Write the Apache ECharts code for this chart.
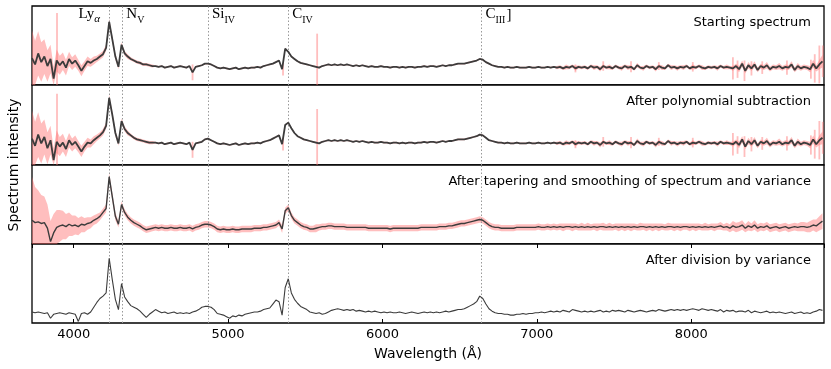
<!DOCTYPE html>
<html>
<head>
<meta charset="utf-8">
<script src="https://cdn.jsdelivr.net/npm/echarts@6/dist/echarts.min.js"></script>
<style>
  html, body { margin: 0; padding: 0; background: #fff; }
  #chart { width: 831px; height: 369px; }
</style>
</head>
<body>
<div id="chart"></div>
<script>
// wavelength sampling of the spectrum (Angstrom), 20 A steps
const lam = [];
for (let w = 3730; w <= 8850; w += 20) lam.push(w);

// emission line positions (observed frame)
const lineNames = ['Ly', 'N', 'Si', 'C', 'C'];
const lineSubs = ['α', 'V', 'IV', 'IV', 'III'];
const lineWaves = [4229, 4315, 4870, 5390, 6641];

const panelTitles = [
  'Starting spectrum',
  'After polynomial subtraction',
  'After tapering and smoothing of spectrum and variance',
  'After division by variance'
];
const tickLabels = [4000, 5000, 6000, 7000, 8000];

// panel 1: raw spectrum
const fluxRaw = [
  34, 26, 40, 29, 36, 24, 33, 8, 31, 25,
  30, 22, 33, 27, 31, 25, 18, 24, 30, 28,
  31, 33, 36, 39, 47, 80, 58, 36, 23, 51,
  40, 36, 33, 31, 29, 28, 26, 26, 25, 24,
  24, 23, 24, 22, 23, 24, 22, 23, 24, 23,
  22, 24, 16, 23, 24, 25, 27, 27, 26, 24,
  22, 21, 22, 21, 20, 21, 22, 20, 21, 22,
  21, 22, 22, 23, 22, 24, 25, 26, 27, 29,
  31, 20, 46, 42, 36, 33, 30, 28, 27, 26,
  25, 24, 23, 22, 24, 25, 26, 25, 26, 25,
  26, 25, 26, 25, 24, 25, 24, 25, 24, 23,
  24, 23, 23, 24, 23, 23, 22, 23, 23, 22,
  23, 22, 23, 23, 22, 23, 23, 24, 23, 24,
  24, 23, 24, 25, 24, 25, 25, 26, 27, 27,
  27, 28, 29, 30, 31, 33, 32, 29, 27, 25,
  24, 23, 23, 22, 23, 22, 22, 23, 22, 22,
  22, 23, 22, 22, 23, 22, 22, 23, 22, 23,
  22, 23, 21, 23, 22, 24, 21, 23, 22, 23,
  21, 24, 22, 23, 20, 24, 22, 23, 21, 24,
  22, 21, 24, 22, 23, 20, 25, 22, 21, 24,
  22, 23, 20, 24, 22, 21, 25, 22, 23, 21,
  23, 22, 24, 21, 23, 22, 24, 22, 21, 23,
  22, 23, 21, 24, 22, 23, 22, 21, 24, 20,
  27, 18, 25, 21, 26, 19, 24, 22, 25, 20,
  23, 22, 24, 21, 23, 22, 26, 19, 24, 21,
  23, 22, 20, 27, 21, 26, 30
];
// smooth part of the noise (1 sigma) of the raw spectrum
const errRaw = [
  35, 30, 28, 25, 22, 20, 18, 15, 14, 12,
  11, 10, 9, 8, 8, 7, 7, 6, 6, 5,
  5, 4, 4, 4, 4, 4, 4, 4, 3, 3,
  3, 3, 2, 2, 2, 2, 2, 2, 2, 2,
  1, 1, 1, 1, 1, 1, 1, 1, 1, 1,
  1, 1, 1, 1, 1, 1, 1, 1, 1, 1,
  1, 1, 1, 1, 1, 1, 1, 1, 1, 1,
  1, 1, 1, 1, 1, 1, 1, 1, 1, 1,
  1, 1, 1, 1, 1, 1, 1, 1, 1, 1,
  1, 1, 1, 1, 1, 1, 1, 1, 1, 1,
  1, 1, 1, 1, 1, 1, 1, 1, 1, 1,
  1, 1, 1, 1, 1, 1, 1, 1, 1, 1,
  1, 1, 1, 1, 1, 1, 1, 1, 1, 1,
  1, 1, 1, 1, 1, 1, 1, 1, 1, 1,
  1, 1, 1, 1, 1, 1, 1, 1, 1, 1,
  1, 1, 1, 1, 1, 1, 1, 1, 1, 1,
  1, 1, 1, 1, 1, 1, 1, 1, 1, 1,
  2, 2, 2, 3, 2, 2, 3, 2, 2, 2,
  2, 2, 3, 2, 3, 2, 2, 3, 2, 2,
  2, 3, 2, 3, 2, 2, 3, 2, 3, 2,
  2, 2, 3, 2, 3, 2, 2, 3, 2, 3,
  2, 3, 2, 2, 3, 2, 2, 3, 2, 2,
  2, 2, 3, 2, 2, 3, 2, 3, 3, 4,
  4, 3, 4, 3, 4, 3, 3, 3, 4, 3,
  3, 3, 4, 3, 3, 3, 4, 3, 4, 3,
  3, 3, 4, 5, 4, 6, 8
];
// narrow noise spikes (sky lines, bad pixels) of the raw variance
const spikeWaves = [3892, 4770, 5356, 5577, 7250, 7430, 7610, 7790, 8010, 8270, 8300, 8345, 8390, 8460, 8620, 8775, 8800, 8830, 8852];
const spikeSig = [60, 10, 8, 42, 5, 6, 7, 5, 6, 14, 11, 13, 9, 8, 9, 12, 18, 24, 20];

// panel 2: after polynomial subtraction
const fluxPoly = [
  33, 24, 38, 27, 35, 21, 31, 6, 29, 23,
  28, 20, 31, 25, 29, 23, 17, 23, 28, 27,
  31, 34, 37, 41, 49, 84, 63, 40, 27, 55,
  45, 40, 37, 34, 32, 31, 30, 29, 28, 28,
  28, 27, 28, 26, 27, 28, 26, 27, 28, 27,
  26, 28, 19, 27, 28, 29, 32, 33, 31, 29,
  27, 26, 27, 26, 25, 26, 27, 25, 26, 27,
  26, 27, 27, 28, 27, 29, 30, 31, 33, 35,
  37, 26, 50, 53, 46, 40, 36, 34, 32, 31,
  30, 29, 28, 27, 29, 30, 31, 30, 31, 30,
  31, 30, 31, 30, 29, 30, 29, 30, 29, 28,
  29, 28, 28, 29, 28, 28, 27, 28, 28, 27,
  28, 27, 28, 28, 27, 28, 28, 29, 28, 29,
  29, 28, 29, 30, 29, 30, 30, 31, 32, 32,
  32, 33, 34, 35, 36, 38, 37, 34, 31, 30,
  29, 28, 28, 27, 28, 27, 27, 28, 27, 27,
  27, 28, 27, 27, 28, 27, 27, 28, 27, 28,
  27, 28, 26, 28, 27, 29, 26, 28, 27, 28,
  26, 29, 27, 28, 25, 29, 27, 28, 26, 29,
  27, 26, 29, 27, 28, 25, 30, 27, 26, 29,
  27, 28, 25, 29, 27, 26, 30, 27, 28, 26,
  28, 27, 29, 26, 28, 27, 29, 27, 26, 28,
  27, 28, 26, 29, 27, 28, 27, 26, 29, 25,
  32, 23, 30, 26, 31, 24, 29, 27, 30, 25,
  28, 27, 29, 26, 28, 27, 31, 24, 29, 26,
  28, 27, 25, 32, 26, 31, 34
];

// panel 3: tapered and smoothed
const fluxSmooth = [
  30, 27, 28, 26, 27, 20, 3, 14, 21, 23,
  24, 22, 25, 23, 24, 22, 25, 24, 26, 27,
  30, 32, 35, 40, 45, 85, 60, 35, 25, 50,
  40, 34, 30, 27, 25, 23, 20, 18, 19, 20,
  21, 20, 21, 20, 20, 21, 20, 20, 21, 20,
  20, 21, 19, 21, 22, 24, 25, 25, 24, 22,
  19, 18, 19, 18, 18, 19, 18, 18, 19, 19,
  19, 19, 20, 20, 20, 21, 21, 22, 23, 24,
  27, 19, 42, 46, 36, 30, 27, 24, 22, 21,
  19, 19, 20, 21, 22, 22, 23, 23, 22, 22,
  22, 22, 21, 21, 21, 21, 21, 21, 21, 20,
  20, 20, 20, 20, 20, 20, 19, 20, 20, 20,
  20, 20, 20, 20, 20, 20, 21, 21, 21, 21,
  21, 21, 22, 22, 22, 23, 23, 24, 25, 26,
  26, 27, 28, 29, 30, 31, 30, 27, 24, 22,
  21, 21, 20, 20, 20, 20, 20, 21, 21, 21,
  21, 21, 21, 21, 22, 21, 21, 22, 21, 22,
  21, 22, 21, 22, 22, 21, 22, 21, 22, 21,
  22, 21, 22, 21, 22, 22, 21, 22, 21, 22,
  21, 22, 21, 22, 21, 22, 21, 22, 22, 21,
  22, 21, 22, 21, 22, 21, 22, 22, 21, 22,
  21, 22, 22, 21, 22, 21, 22, 21, 22, 21,
  22, 21, 22, 23, 21, 22, 20, 23, 21, 22,
  24, 20, 23, 21, 24, 20, 22, 21, 23, 20,
  21, 22, 20, 21, 22, 20, 21, 22, 21, 22,
  22, 21, 22, 24, 23, 26, 29
];
const errSmooth = [
  55, 45, 40, 36, 33, 30, 26, 24, 22, 20,
  18, 16, 15, 13, 12, 11, 10, 9, 8, 7,
  6, 6, 5, 5, 5, 5, 5, 5, 4, 4,
  4, 4, 4, 4, 4, 4, 4, 4, 4, 4,
  4, 4, 4, 4, 4, 4, 4, 4, 4, 4,
  4, 4, 4, 4, 4, 4, 4, 4, 4, 4,
  4, 4, 4, 4, 4, 4, 4, 4, 4, 4,
  4, 4, 4, 4, 4, 4, 4, 4, 4, 4,
  4, 5, 4, 4, 4, 4, 4, 4, 4, 4,
  4, 4, 5, 4, 4, 4, 4, 4, 4, 4,
  4, 4, 4, 4, 4, 4, 4, 4, 4, 4,
  4, 4, 4, 4, 4, 4, 4, 4, 4, 4,
  4, 4, 4, 4, 4, 4, 4, 4, 4, 4,
  4, 4, 4, 4, 4, 4, 4, 4, 4, 4,
  4, 4, 4, 4, 4, 4, 4, 4, 4, 4,
  4, 4, 4, 4, 4, 4, 4, 4, 4, 4,
  4, 4, 4, 4, 4, 4, 4, 4, 4, 4,
  4, 4, 5, 4, 4, 5, 4, 4, 5, 4,
  5, 4, 4, 5, 4, 5, 4, 5, 4, 4,
  5, 4, 5, 4, 5, 4, 4, 5, 4, 5,
  4, 5, 4, 5, 4, 4, 5, 4, 5, 4,
  5, 4, 4, 5, 4, 5, 4, 4, 5, 4,
  4, 5, 4, 5, 4, 5, 5, 6, 6, 6,
  6, 5, 6, 5, 6, 5, 5, 5, 5, 5,
  5, 5, 5, 5, 5, 5, 5, 5, 5, 6,
  6, 6, 7, 7, 8, 9, 10
];

// panel 4: divided by variance
const fluxDiv = [
  14, 13, 14, 13, 12, 13, 6, 11, 12, 13,
  12, 11, 13, 12, 11, 2, 12, 13, 11, 14,
  20, 26, 31, 34, 38, 82, 55, 30, 17, 50,
  33, 27, 22, 20, 18, 15, 11, 7, 11, 14,
  17, 15, 13, 14, 12, 13, 14, 12, 13, 12,
  13, 12, 14, 15, 17, 20, 21, 21, 20, 17,
  12, 11, 10, 8, 6, 9, 8, 10, 9, 11,
  12, 13, 14, 14, 15, 17, 18, 19, 24, 29,
  27, 10, 45, 56, 38, 30, 25, 21, 19, 17,
  14, 13, 12, 13, 11, 12, 14, 16, 17, 18,
  17, 16, 17, 16, 17, 15, 16, 15, 14, 15,
  14, 15, 14, 13, 14, 13, 14, 13, 13, 14,
  13, 12, 13, 14, 13, 12, 13, 14, 13, 14,
  13, 14, 13, 14, 15, 14, 15, 16, 17, 17,
  18, 20, 22, 24, 27, 34, 31, 24, 18, 15,
  13, 12, 12, 11, 11, 10, 10, 11, 11, 12,
  11, 12, 12, 13, 13, 14, 13, 14, 15, 14,
  15, 14, 16, 15, 14, 17, 16, 15, 14, 15,
  14, 15, 14, 15, 16, 14, 15, 14, 16, 15,
  16, 15, 14, 16, 15, 14, 15, 16, 15, 14,
  15, 16, 15, 17, 16, 15, 16, 17, 16, 17,
  16, 17, 16, 17, 18, 17, 16, 18, 17, 16,
  17, 16, 15, 17, 14, 16, 15, 16, 14, 15,
  15, 14, 16, 13, 15, 14, 13, 14, 15, 13,
  14, 13, 14, 13, 12, 13, 14, 12, 13, 14,
  12, 13, 12, 14, 15, 17, 16
];

const panels = [
  { flux: fluxRaw, err: errRaw, spikes: true },
  { flux: fluxPoly, err: errRaw, spikes: true },
  { flux: fluxSmooth, err: errSmooth, spikes: false },
  { flux: fluxDiv, err: null, spikes: false }
];

const FONT = 'DejaVu Sans';
const SERIF = 'Liberation Serif';
const PINK = 'rgba(255,110,110,0.45)';
const tops = [6, 85, 165, 244];
const heights = [79, 80, 79, 79];
const X0 = 3730, X1 = 8860;

// error band drawn as one polygon through the axis scales
function bandSeries(k, flux, err) {
  return {
    type: 'custom', xAxisIndex: k, yAxisIndex: k, z: 1, silent: true,
    data: [[lam[0], flux[0]]],
    renderItem: function (params, api) {
      const up = [], dn = [];
      for (let i = 0; i < lam.length; i++) {
        up.push(api.coord([lam[i], Math.min(100, flux[i] + err[i])]));
        dn.push(api.coord([lam[i], Math.max(0, flux[i] - err[i])]));
      }
      return { type: 'polygon', shape: { points: up.concat(dn.reverse()) },
        style: { fill: PINK } };
    }
  };
}
// narrow spikes centred on the nearest sample of the spectrum
function spikeSeries(k, flux) {
  return {
    type: 'custom', xAxisIndex: k, yAxisIndex: k, z: 1, silent: true,
    data: spikeWaves.map((w, i) => [w, spikeSig[i]]),
    renderItem: function (params, api) {
      const w = api.value(0), s = api.value(1);
      const j = Math.round((w - lam[0]) / 20);
      const c = flux[Math.max(0, Math.min(lam.length - 1, j))];
      const a = api.coord([w, Math.min(100, c + s)]);
      const b = api.coord([w, Math.max(0, c - s)]);
      return { type: 'rect', shape: { x: a[0] - 0.9, y: a[1], width: 1.8, height: b[1] - a[1] },
        style: { fill: PINK } };
    }
  };
}

const grids = [], xAxes = [], yAxes = [], series = [];
panels.forEach((p, k) => {
  grids.push({ left: 32, right: 7, top: tops[k], height: heights[k],
    show: true, borderColor: '#000', borderWidth: 1.3, backgroundColor: '#fff' });
  const last = k === panels.length - 1;
  xAxes.push({
    type: 'value', gridIndex: k, min: X0, max: X1, splitNumber: 5,
    axisLine: { show: false }, splitLine: { show: false },
    axisTick: { show: last, inside: true, length: 4, lineStyle: { color: '#000' } },
    axisLabel: {
      show: last, margin: 5, color: '#000', fontFamily: FONT, fontSize: 13,
      showMinLabel: false, showMaxLabel: false,
      formatter: v => tickLabels.indexOf(v) >= 0 ? String(v) : ''
    }
  });
  yAxes.push({ type: 'value', gridIndex: k, min: 0, max: 100, show: false });

  if (p.err) series.push(bandSeries(k, p.flux, p.err));
  if (p.spikes) series.push(spikeSeries(k, p.flux));
  series.push({
    type: 'line', xAxisIndex: k, yAxisIndex: k, z: 3,
    data: p.flux.map((f, i) => [lam[i], f]),
    showSymbol: false, silent: true,
    lineStyle: { color: '#3c3c3c', width: last ? 1.1 : (k === 2 ? 1.4 : 1.8) },
    markLine: {
      silent: true, symbol: ['none', 'none'], label: { show: false }, z: 2,
      lineStyle: { color: '#999', type: [1.5, 2], width: 1 },
      data: lineWaves.map(w => ({ xAxis: w }))
    }
  });
});
// top ticks of the bottom panel
xAxes.push({
  type: 'value', gridIndex: 3, position: 'top', min: X0, max: X1, splitNumber: 5,
  axisLine: { show: false }, splitLine: { show: false }, axisLabel: { show: false },
  axisTick: { show: true, inside: true, length: 4, lineStyle: { color: '#000' } }
});

const graphic = [];
panelTitles.forEach((t, k) => {
  graphic.push({ type: 'text', x: 811, y: tops[k] + 17, silent: true,
    style: { text: t, fill: '#000', font: '13px "' + FONT + '"',
      textAlign: 'right', textVerticalAlign: 'middle', align: 'right', verticalAlign: 'middle' } });
});

// line labels: main letters plus a lowered subscript, widths measured on a canvas
const meas = document.createElement('canvas').getContext('2d');
function textW(str, font) { meas.font = font; return meas.measureText(str).width; }
const mainFont = '15px "' + SERIF + '"';
const subFont = '10px "' + SERIF + '"';
const subFontIt = 'italic 11px "' + SERIF + '"';
lineNames.forEach((n, i) => {
  const px = 32 + (lineWaves[i] - X0) / (X1 - X0) * 792;
  const sf = i === 0 ? subFontIt : subFont;
  const wMain = textW(n, mainFont), wSub = textW(lineSubs[i], sf);
  const tail = i === 4 ? ']' : '';
  const total = wMain + wSub + (tail ? textW(tail, mainFont) : 0);
  const x0 = i === 0 ? px - 9 - total : px + 4;
  const yBase = 22;
  graphic.push({ type: 'text', x: x0, y: yBase, silent: true,
    style: { text: n, fill: '#000', font: mainFont, textAlign: 'left', align: 'left',
      textVerticalAlign: 'bottom', verticalAlign: 'bottom' } });
  graphic.push({ type: 'text', x: x0 + wMain, y: yBase + 3, silent: true,
    style: { text: lineSubs[i], fill: '#000', font: sf, textAlign: 'left', align: 'left',
      textVerticalAlign: 'bottom', verticalAlign: 'bottom' } });
  if (tail) graphic.push({ type: 'text', x: x0 + wMain + wSub + 1, y: yBase + 1, silent: true,
    style: { text: tail, fill: '#000', font: mainFont, textAlign: 'left', align: 'left',
      textVerticalAlign: 'bottom', verticalAlign: 'bottom' } });
});
graphic.push({ type: 'text', x: 14, y: 165, rotation: Math.PI / 2, silent: true,
  style: { text: 'Spectrum intensity', fill: '#000', font: '14px "' + FONT + '"',
    textAlign: 'center', textVerticalAlign: 'middle', align: 'center', verticalAlign: 'middle' } });
graphic.push({ type: 'text', x: 428, y: 354, silent: true,
  style: { text: 'Wavelength (Å)', fill: '#000', font: '14px "' + FONT + '"',
    textAlign: 'center', textVerticalAlign: 'middle', align: 'center', verticalAlign: 'middle' } });

const chart = echarts.init(document.getElementById('chart'), null, { renderer: 'canvas' });
chart.setOption({
  animation: false,
  backgroundColor: '#fff',
  grid: grids, xAxis: xAxes, yAxis: yAxes, series: series, graphic: graphic
});
</script>
</body>
</html>
